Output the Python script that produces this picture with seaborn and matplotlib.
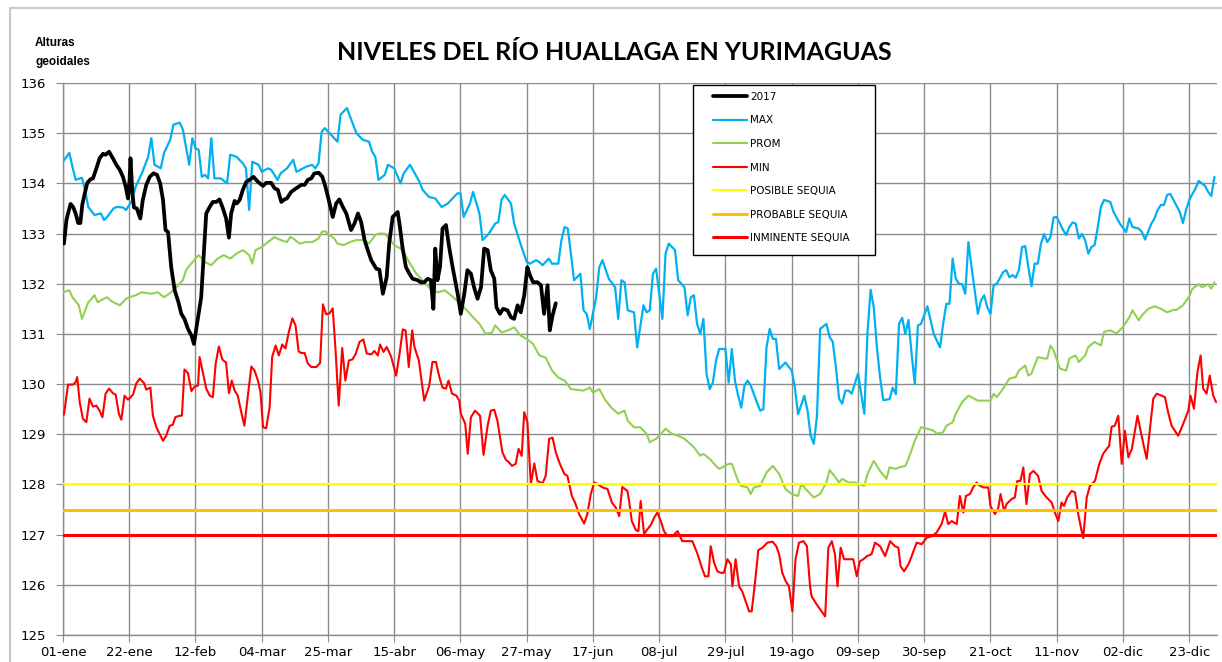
#!/usr/bin/env python3
"""
Niveles del rio Huallaga en Yurimaguas - recreated chart
"""

import numpy as np
import pandas as pd
import matplotlib
matplotlib.use("Agg")
import matplotlib.pyplot as plt
import seaborn as sns
from matplotlib.patches import Rectangle

# ---- data: day of year (0 = 01-ene) and level (m, alturas geoidales) ----
y2017_days = [0.3, 1.1, 1.6, 2.4, 3.2, 4.0, 4.8, 5.5, 6.1, 6.9, 7.7, 8.7, 9.5, 10.6, 11.6, 12.7, 13.5, 14.6,
              15.8, 16.9, 18.0, 19.0, 19.9, 20.6, 21.1, 21.4, 22.0, 22.5, 23.4, 24.5, 25.3, 26.4, 27.5, 28.7,
              29.8, 30.8, 31.7, 32.5, 33.3, 33.8, 34.3, 35.4, 36.6, 37.5, 38.5, 39.6, 40.7, 41.5, 43.8, 45.4,
              46.5, 47.5, 48.6, 49.6, 50.7, 51.7, 52.6, 53.3, 54.4, 55.1, 56.0, 57.0, 58.1, 59.1, 60.4, 61.8,
              63.4, 64.4, 66.0, 67.1, 68.1, 69.2, 70.2, 71.0, 72.3, 73.9, 75.5, 76.6, 77.6, 78.7, 79.7, 81.1,
              82.2, 83.2, 84.5, 85.5, 86.6, 87.6, 88.7, 89.8, 91.3, 92.4, 93.5, 94.5, 95.6, 96.6, 97.7, 99.3,
              100.3, 101.4, 102.6, 103.4, 104.5, 106.1, 106.8, 107.6, 108.7, 109.8, 110.8, 112.4, 113.4, 114.5,
              115.6, 116.6, 117.4, 118.0, 118.7, 119.5, 120.3, 121.4, 122.4, 123.5, 125.1, 126.1, 127.2, 128.2,
              129.3, 130.3, 131.4, 132.5, 133.5, 134.6, 135.6, 136.7, 137.4, 138.5, 139.5, 140.9, 142.0, 143.0,
              144.1, 145.1, 146.2, 147.2, 148.0, 149.0, 150.4, 151.5, 152.5, 153.6, 154.3, 155.2, 156.2]
y2017_vals = [132.80, 133.27, 133.40, 133.59, 133.53, 133.40, 133.21, 133.21, 133.57, 133.80, 134.01, 134.08,
              134.10, 134.30, 134.50, 134.59, 134.57, 134.63, 134.50, 134.37, 134.27, 134.13, 133.93, 133.70,
              134.07, 134.50, 133.80, 133.52, 133.50, 133.30, 133.67, 133.97, 134.13, 134.20, 134.17, 134.00,
              133.67, 133.07, 133.03, 132.67, 132.33, 131.87, 131.63, 131.40, 131.30, 131.10, 130.97, 130.80,
              131.73, 133.40, 133.53, 133.63, 133.63, 133.68, 133.50, 133.30, 132.92, 133.40, 133.65, 133.60,
              133.67, 133.87, 134.03, 134.07, 134.13, 134.03, 133.95, 134.01, 134.01, 133.90, 133.87, 133.63,
              133.68, 133.70, 133.83, 133.90, 133.97, 133.97, 134.07, 134.10, 134.20, 134.21, 134.13, 133.93,
              133.60, 133.33, 133.60, 133.68, 133.53, 133.40, 133.07, 133.20, 133.40, 133.23, 132.87, 132.67,
              132.47, 132.30, 132.28, 131.80, 132.13, 132.80, 133.33, 133.43, 133.13, 132.73, 132.33, 132.20,
              132.10, 132.07, 132.03, 132.03, 132.10, 132.07, 131.50, 132.70, 132.07, 132.33, 133.10, 133.17,
              132.73, 132.33, 131.80, 131.40, 131.80, 132.27, 132.20, 131.93, 131.70, 131.93, 132.70, 132.67,
              132.27, 132.10, 131.53, 131.40, 131.50, 131.47, 131.33, 131.30, 131.57, 131.43, 131.77, 132.33,
              132.17, 132.03, 132.03, 131.97, 131.40, 131.97, 131.07, 131.37, 131.61]

max_days = [0, 2, 3, 4, 6, 7, 8, 10, 12, 13, 14, 16, 17, 19, 20, 22, 23, 25, 27, 28, 29, 31, 32, 34, 35, 37,
            38, 40, 41, 42, 43, 44, 45, 46, 47, 48, 50, 52, 53, 55, 57, 58, 59, 60, 62, 63, 65, 66, 68, 69, 71,
            73, 74, 77, 79, 80, 81, 82, 83, 87, 88, 90, 91, 93, 95, 97, 98, 99, 100, 102, 103, 105, 107, 108,
            110, 113, 114, 116, 118, 120, 122, 125, 126, 127, 129, 130, 132, 133, 135, 137, 138, 139, 140, 142,
            143, 145, 147, 148, 150, 151, 152, 154, 155, 157, 158, 159, 160, 161, 162, 164, 165, 166, 167, 169,
            170, 171, 173, 175, 176, 177, 178, 179, 181, 182, 184, 185, 186, 187, 188, 190, 191, 192, 194, 195,
            197, 198, 199, 200, 201, 202, 203, 204, 205, 206, 207, 208, 210, 211, 212, 213, 214, 215, 216, 217,
            218, 220, 221, 222, 223, 224, 225, 226, 227, 229, 231, 232, 233, 235, 236, 237, 238, 239, 240, 242,
            243, 244, 245, 246, 247, 248, 249, 250, 251, 252, 253, 254, 255, 256, 257, 258, 259, 260, 262, 263,
            264, 265, 266, 267, 268, 269, 270, 271, 272, 274, 275, 276, 278, 279, 280, 281, 282, 283, 284, 285,
            286, 287, 288, 290, 291, 292, 293, 294, 295, 296, 298, 299, 300, 301, 302, 303, 304, 305, 306, 307,
            308, 309, 310, 311, 312, 313, 314, 315, 317, 318, 319, 320, 321, 322, 323, 324, 325, 326, 327, 328,
            329, 330, 332, 333, 335, 337, 338, 339, 341, 342, 343, 345, 346, 347, 348, 349, 350, 351, 352, 354,
            355, 356, 357, 359, 360, 362, 363, 364, 365]
max_vals = [134.43, 134.61, 134.33, 134.07, 134.11, 133.87, 133.53, 133.37, 133.40, 133.27, 133.33, 133.50,
            133.53, 133.52, 133.47, 133.67, 133.93, 134.20, 134.53, 134.90, 134.37, 134.30, 134.60, 134.87,
            135.17, 135.21, 135.07, 134.37, 134.90, 134.70, 134.67, 134.13, 134.17, 134.10, 134.90, 134.10,
            134.10, 134.00, 134.57, 134.53, 134.40, 134.30, 133.47, 134.43, 134.37, 134.23, 134.30, 134.27,
            134.07, 134.20, 134.30, 134.47, 134.23, 134.33, 134.37, 134.30, 134.40, 135.03, 135.10, 134.83,
            135.37, 135.50, 135.33, 135.00, 134.87, 134.83, 134.63, 134.53, 134.07, 134.17, 134.37, 134.30,
            134.00, 134.20, 134.37, 134.03, 133.87, 133.73, 133.70, 133.53, 133.60, 133.80, 133.80, 133.33,
            133.60, 133.83, 133.40, 132.87, 133.00, 133.20, 133.23, 133.67, 133.77, 133.60, 133.20, 132.80,
            132.43, 132.40, 132.47, 132.43, 132.37, 132.50, 132.40, 132.40, 132.87, 133.13, 133.10, 132.60,
            132.07, 132.20, 131.47, 131.40, 131.10, 131.73, 132.33, 132.47, 132.10, 131.93, 131.30, 132.07,
            132.03, 131.47, 131.43, 130.73, 131.57, 131.43, 131.47, 132.20, 132.30, 131.30, 132.60, 132.80,
            132.67, 132.07, 131.93, 131.37, 131.73, 131.77, 131.20, 131.00, 131.30, 130.20, 129.90, 130.03,
            130.47, 130.70, 130.70, 130.03, 130.70, 130.07, 129.77, 129.53, 129.97, 130.07, 129.97, 129.63,
            129.47, 129.50, 130.73, 131.10, 130.90, 130.90, 130.30, 130.43, 130.27, 129.93, 129.40, 129.77,
            129.47, 128.97, 128.81, 129.37, 131.10, 131.20, 130.94, 130.84, 130.34, 129.71, 129.61, 129.87,
            129.87, 129.81, 130.01, 130.21, 129.81, 129.41, 131.01, 131.88, 131.53, 130.73, 130.13, 129.68,
            129.70, 129.93, 129.80, 131.20, 131.32, 131.00, 131.28, 130.60, 130.00, 131.17, 131.20, 131.55,
            131.27, 131.00, 130.73, 131.20, 131.60, 131.60, 132.50, 132.10, 132.00, 131.99, 131.80, 132.83,
            132.33, 131.40, 131.67, 131.77, 131.53, 131.40, 131.97, 132.00, 132.23, 132.27, 132.13, 132.17,
            132.12, 132.27, 132.73, 132.75, 132.33, 131.95, 132.40, 132.40, 132.80, 132.99, 132.83, 132.93,
            133.32, 133.33, 133.07, 132.97, 133.13, 133.22, 133.20, 132.90, 132.99, 132.87, 132.60, 132.73,
            132.77, 133.13, 133.53, 133.67, 133.63, 133.43, 133.20, 133.03, 133.30, 133.13, 133.10, 133.03,
            132.88, 133.20, 133.30, 133.47, 133.57, 133.57, 133.77, 133.79, 133.67, 133.43, 133.21, 133.47,
            133.67, 133.90, 134.05, 133.95, 133.83, 133.75, 134.13]

prom_days = [0, 2, 3, 5, 6, 8, 10, 11, 12, 14, 15, 16, 18, 20, 21, 23, 25, 28, 30, 32, 33, 35, 38, 39, 41, 43,
             45, 47, 49, 51, 53, 55, 57, 59, 60, 61, 63, 65, 67, 69, 71, 72, 73, 75, 77, 79, 81, 82, 83, 86, 87,
             89, 91, 93, 95, 97, 99, 100, 102, 105, 107, 108, 110, 112, 115, 117, 119, 121, 123, 126, 128, 130,
             132, 134, 136, 137, 139, 141, 143, 145, 147, 149, 151, 153, 155, 157, 159, 161, 165, 167, 168, 170,
             172, 174, 176, 178, 179, 181, 183, 185, 186, 188, 191, 193, 195, 197, 200, 202, 203, 205, 207, 208,
             211, 212, 214, 215, 217, 218, 219, 221, 223, 225, 227, 229, 231, 233, 234, 236, 238, 240, 242, 243,
             244, 246, 247, 249, 251, 252, 254, 255, 257, 259, 261, 262, 264, 265, 267, 268, 270, 272, 274, 276,
             277, 279, 280, 282, 283, 285, 287, 290, 292, 294, 295, 296, 298, 300, 302, 303, 305, 306, 307, 309,
             311, 312, 313, 314, 316, 318, 319, 321, 322, 324, 325, 327, 329, 330, 332, 334, 336, 338, 339, 341,
             342, 344, 346, 348, 350, 352, 353, 355, 357, 358, 360, 361, 363, 364, 365]
prom_vals = [131.83, 131.87, 131.73, 131.57, 131.30, 131.63, 131.77, 131.63, 131.67, 131.73, 131.67, 131.63,
             131.57, 131.70, 131.73, 131.77, 131.83, 131.80, 131.83, 131.73, 131.77, 131.87, 132.07, 132.27,
             132.43, 132.57, 132.43, 132.37, 132.50, 132.57, 132.50, 132.60, 132.67, 132.57, 132.40, 132.67,
             132.73, 132.83, 132.93, 132.87, 132.83, 132.93, 132.90, 132.80, 132.83, 132.83, 132.90, 133.03,
             133.05, 132.90, 132.80, 132.77, 132.83, 132.87, 132.87, 132.80, 132.97, 133.00, 133.00, 132.77,
             132.70, 132.63, 132.40, 132.20, 132.00, 131.87, 131.83, 131.87, 131.77, 131.60, 131.47, 131.33,
             131.20, 131.00, 131.03, 131.17, 131.03, 131.07, 131.13, 130.97, 130.90, 130.80, 130.57, 130.53,
             130.27, 130.13, 130.07, 129.90, 129.87, 129.93, 129.83, 129.90, 129.67, 129.52, 129.41, 129.47,
             129.27, 129.14, 129.14, 129.01, 128.84, 128.91, 129.11, 129.01, 128.97, 128.91, 128.74, 128.57,
             128.61, 128.51, 128.37, 128.31, 128.41, 128.41, 128.07, 127.97, 127.94, 127.81, 127.94, 127.97,
             128.24, 128.37, 128.21, 127.91, 127.81, 127.77, 128.01, 127.87, 127.74, 127.81, 128.04, 128.29,
             128.21, 128.04, 128.11, 128.04, 128.04, 128.02, 127.97, 128.21, 128.47, 128.27, 128.11, 128.34,
             128.31, 128.34, 128.37, 128.51, 128.87, 129.14, 129.11, 129.07, 129.01, 129.04, 129.17, 129.24,
             129.41, 129.64, 129.77, 129.67, 129.67, 129.67, 129.81, 129.74, 129.91, 130.11, 130.14, 130.27,
             130.37, 130.17, 130.21, 130.54, 130.51, 130.51, 130.77, 130.67, 130.31, 130.27, 130.51, 130.57,
             130.44, 130.57, 130.74, 130.84, 130.77, 131.04, 131.07, 131.01, 131.14, 131.33, 131.47, 131.27,
             131.37, 131.50, 131.55, 131.50, 131.43, 131.48, 131.48, 131.57, 131.75, 131.90, 131.99, 131.93,
             131.99, 131.90, 132.03]

min_days = [0.3, 1.6, 3.2, 4.0, 4.5, 5.3, 6.3, 7.4, 8.4, 9.5, 10.6, 11.6, 12.5, 13.5, 14.6, 15.8, 16.7, 17.7,
            18.5, 19.5, 20.6, 22.2, 23.2, 24.3, 25.7, 26.4, 27.7, 28.5, 29.6, 30.6, 31.7, 32.7, 33.8, 34.8, 35.6,
            37.0, 37.7, 38.5, 39.6, 40.7, 41.7, 42.8, 43.3, 44.4, 45.4, 46.5, 47.5, 48.4, 49.4, 50.5, 51.7, 52.6,
            53.5, 54.4, 55.4, 56.5, 57.5, 58.6, 59.7, 60.7, 61.8, 62.6, 63.4, 64.4, 65.5, 66.3, 67.4, 68.4, 69.5,
            70.5, 71.6, 72.7, 73.7, 74.7, 75.5, 76.6, 77.6, 78.7, 80.3, 81.5, 82.4, 83.4, 84.5, 85.5, 86.4, 87.4,
            88.5, 89.5, 90.6, 91.7, 92.7, 94.0, 95.2, 96.3, 97.7, 98.7, 99.8, 100.5, 101.6, 102.6, 104.0, 105.6,
            106.7, 107.7, 108.6, 109.6, 110.7, 111.4, 112.8, 114.5, 116.1, 117.1, 118.2, 119.3, 120.3, 121.4,
            122.2, 123.3, 124.7, 125.6, 126.1, 127.5, 128.3, 129.3, 130.6, 132.2, 133.3, 134.6, 135.6, 136.7,
            137.7, 139.3, 140.4, 141.4, 142.3, 143.5, 144.4, 145.4, 146.2, 147.2, 148.3, 149.4, 150.4, 152.0,
            153.0, 154.1, 155.2, 156.2, 157.5, 158.9, 159.9, 161.3, 162.3, 163.6, 165.2, 166.2, 167.3, 168.4,
            169.4, 171.0, 172.6, 174.0, 175.2, 176.3, 177.3, 178.9, 179.4, 180.3, 181.6, 182.4, 183.1, 184.2,
            185.3, 186.3, 187.4, 188.4, 189.5, 190.5, 191.6, 193.2, 194.8, 196.3, 197.9, 199.5, 201.1, 202.5,
            203.5, 204.6, 205.3, 206.4, 207.4, 208.5, 209.5, 210.6, 211.7, 212.2, 213.2, 214.3, 215.3, 216.4,
            217.5, 218.3, 219.4, 220.4, 221.7, 223.3, 224.9, 226.1, 227.0, 228.0, 229.1, 230.1, 231.2, 232.2,
            233.3, 234.7, 235.8, 236.8, 237.3, 238.9, 240.5, 241.6, 242.6, 243.7, 244.7, 245.5, 246.5, 247.6,
            249.0, 250.5, 251.6, 252.6, 253.7, 254.8, 256.3, 257.4, 259.0, 260.6, 262.2, 263.7, 264.8, 265.5,
            266.6, 268.0, 269.0, 270.6, 272.2, 273.8, 275.4, 276.9, 278.5, 279.6, 280.6, 281.7, 283.3, 284.3,
            285.4, 286.2, 287.5, 288.5, 289.6, 290.7, 291.9, 293.3, 294.0, 295.4, 296.5, 297.2, 298.3, 299.1,
            300.7, 301.7, 302.5, 303.5, 304.4, 305.4, 306.5, 307.6, 309.1, 310.2, 311.8, 313.4, 314.4, 315.5,
            316.5, 317.3, 318.3, 319.7, 320.8, 321.8, 322.9, 323.4, 324.5, 325.5, 327.1, 328.5, 329.7, 331.6,
            332.4, 333.4, 334.5, 335.6, 336.6, 337.7, 338.8, 340.6, 341.9, 343.5, 345.6, 346.7, 348.2, 349.3,
            350.3, 351.4, 353.5, 355.1, 356.7, 357.4, 358.5, 359.6, 360.6, 361.4, 362.5, 363.5, 364.6, 365.5]
min_vals = [129.39, 129.99, 129.99, 130.04, 130.14, 129.64, 129.31, 129.24, 129.71, 129.55, 129.57, 129.47,
            129.34, 129.81, 129.91, 129.82, 129.79, 129.41, 129.29, 129.77, 129.69, 129.79, 130.01, 130.11,
            130.02, 129.89, 129.93, 129.37, 129.14, 129.01, 128.87, 128.97, 129.17, 129.19, 129.34, 129.37,
            129.37, 130.29, 130.22, 129.86, 129.95, 129.97, 130.54, 130.21, 129.91, 129.77, 129.74, 130.41,
            130.75, 130.49, 130.43, 129.82, 130.07, 129.87, 129.77, 129.44, 129.17, 129.77, 130.35, 130.27,
            130.07, 129.84, 129.14, 129.12, 129.54, 130.54, 130.77, 130.57, 130.79, 130.71, 131.04, 131.31,
            131.17, 130.65, 130.62, 130.62, 130.41, 130.34, 130.34, 130.42, 131.59, 131.39, 131.41, 131.51,
            130.67, 129.57, 130.72, 130.07, 130.47, 130.49, 130.59, 130.84, 130.89, 130.61, 130.59, 130.66,
            130.57, 130.79, 130.64, 130.74, 130.55, 130.17, 130.61, 131.09, 131.07, 130.34, 131.07, 130.74,
            130.47, 129.67, 129.97, 130.44, 130.44, 130.14, 129.93, 129.91, 130.07, 129.81, 129.77, 129.67,
            129.41, 129.21, 128.61, 129.34, 129.47, 129.37, 128.59, 129.17, 129.47, 129.49, 129.27, 128.64,
            128.49, 128.44, 128.37, 128.41, 128.71, 128.57, 129.44, 129.24, 128.01, 128.42, 128.07, 128.02,
            128.17, 128.91, 128.93, 128.64, 128.41, 128.21, 128.17, 127.77, 127.64, 127.41, 127.22, 127.41,
            127.81, 128.04, 128.01, 127.94, 127.91, 127.64, 127.54, 127.37, 127.95, 127.87, 127.69, 127.27,
            127.09, 127.07, 127.67, 127.01, 127.11, 127.19, 127.34, 127.44, 127.27, 127.07, 126.97, 126.97,
            127.07, 126.87, 126.87, 126.87, 126.62, 126.34, 126.17, 126.17, 126.77, 126.44, 126.27, 126.24,
            126.24, 126.51, 126.41, 125.97, 126.51, 125.97, 125.87, 125.67, 125.47, 125.47, 126.07, 126.69,
            126.74, 126.84, 126.86, 126.77, 126.61, 126.24, 126.07, 125.97, 125.47, 126.51, 126.84, 126.87,
            126.77, 125.97, 125.77, 125.61, 125.47, 125.37, 126.74, 126.87, 126.61, 125.97, 126.74, 126.51,
            126.51, 126.51, 126.17, 126.47, 126.51, 126.57, 126.61, 126.84, 126.77, 126.57, 126.87, 126.77,
            126.74, 126.37, 126.27, 126.41, 126.57, 126.84, 126.81, 126.94, 126.97, 127.04, 127.21, 127.46,
            127.21, 127.27, 127.21, 127.77, 127.44, 127.77, 127.81, 127.94, 128.04, 127.97, 127.94, 127.94,
            127.57, 127.41, 127.54, 127.81, 127.47, 127.61, 127.71, 127.74, 128.07, 128.07, 128.34, 127.61,
            128.21, 128.27, 128.17, 127.87, 127.74, 127.64, 127.44, 127.27, 127.64, 127.57, 127.74, 127.87,
            127.84, 127.41, 127.07, 126.93, 127.74, 127.97, 128.07, 128.41, 128.61, 128.77, 129.15, 129.17,
            129.37, 128.41, 129.07, 128.54, 128.71, 129.37, 128.97, 128.51, 129.71, 129.81, 129.77, 129.74,
            129.44, 129.17, 128.97, 129.21, 129.47, 129.77, 129.51, 130.24, 130.57, 129.91, 129.81, 130.17,
            129.77, 129.64]

# drought thresholds
sequia_names = ['POSIBLE SEQUIA', 'PROBABLE SEQUIA', 'INMINENTE SEQUIA']
sequia_levels = [128.0, 127.5, 127.0]
sequia_colors = ['#FFFF00', '#FFC000', '#FF0000']
sequia_widths = [1.5, 2.2, 2.2]

tick_days = list(range(0, 358, 21))
tick_labels = ['01-ene', '22-ene', '12-feb', '04-mar', '25-mar', '15-abr', '06-may', '27-may', '17-jun',
               '08-jul', '29-jul', '19-ago', '09-sep', '30-sep', '21-oct', '11-nov', '02-dic', '23-dic']


def generate_chart():
    sns.set_style("white")
    plt.rcParams['font.family'] = ['DejaVu Sans']
    plt.rcParams['text.color'] = 'black'

    fig = plt.figure(figsize=(12.22, 6.62), dpi=100)
    ax = fig.add_axes([63 / 1222, 1 - 635 / 662, (1217 - 63) / 1222, (635 - 83) / 662])

    grid_col = '#8C8C8C'

    sns.lineplot(x=y2017_days, y=y2017_vals, ax=ax, color='black', linewidth=2.7, label='2017', zorder=5)
    sns.lineplot(x=max_days, y=max_vals, ax=ax, color='#00B0F0', linewidth=1.6, label='MAX', zorder=3)
    sns.lineplot(x=prom_days, y=prom_vals, ax=ax, color='#92D050', linewidth=1.5, label='PROM', zorder=3)
    sns.lineplot(x=min_days, y=min_vals, ax=ax, color='#FF0000', linewidth=1.5, label='MIN', zorder=3)
    for name, lvl, col, lw in zip(sequia_names, sequia_levels, sequia_colors, sequia_widths):
        ax.axhline(lvl, color=col, linewidth=lw, label=name, zorder=4)

    ax.set_xlim(0, 365.8)
    ax.set_ylim(125, 136)
    ax.set_xticks(tick_days)
    ax.set_xticklabels(tick_labels)
    ax.set_yticks(range(125, 137))
    ax.set_xlabel('')
    ax.set_ylabel('')

    ax.grid(True, color=grid_col, linewidth=1.0)
    ax.set_axisbelow(True)
    for side in ['top', 'right']:
        ax.spines[side].set_visible(False)
    for side in ['left', 'bottom']:
        ax.spines[side].set_color(grid_col)
        ax.spines[side].set_linewidth(1.0)
    ax.tick_params(axis='both', which='both', length=5, color=grid_col, labelsize=9.5, labelcolor='black')
    ax.tick_params(axis='y', pad=7, left=True)
    ax.tick_params(axis='x', pad=3, bottom=True)

    # legend box (white, black border) with the entries placed inside it
    ax.add_patch(Rectangle((0.5459, 0.6884), 0.1577, 0.308, transform=ax.transAxes, facecolor='white',
                           edgecolor='black', linewidth=1.0, zorder=6))
    leg = ax.legend(loc='upper left', bbox_to_anchor=(0.5633, 0.9839), borderaxespad=0, borderpad=0,
                    fontsize=7.5, handlelength=3.27, handletextpad=0.3, labelspacing=1.3, frameon=False,
                    labelcolor='black')
    leg.set_zorder(7)

    # title and axis caption
    fig.text(0.5025, 1 - 52 / 662, 'NIVELES DEL RÍO HUALLAGA EN YURIMAGUAS', ha='center', va='center',
             fontsize=18, fontweight='bold', color='black', family=['Lato', 'DejaVu Sans'])
    fig.text(35 / 1222, 1 - 37 / 662, 'Alturas\ngeoidales', ha='left', va='top', fontsize=8.5,
             fontweight='bold', linespacing=1.8, color='black', family=['Liberation Sans', 'DejaVu Sans'])

    # outer chart frame
    fig.patches.append(Rectangle((10 / 1222, -0.1), 1.2, 1 - 8 / 662 + 0.1, transform=fig.transFigure,
                                 fill=False, edgecolor='#C8C8C8', linewidth=1.5))

    fig.savefig('out.png', dpi=100)
    plt.close(fig)


if __name__ == "__main__":
    generate_chart()
